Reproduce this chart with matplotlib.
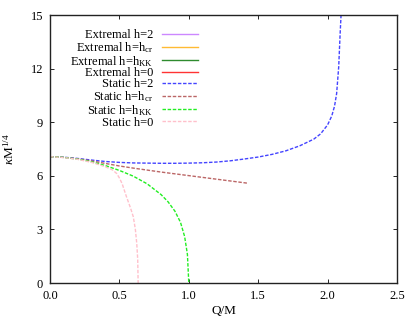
import numpy as np
import matplotlib.pyplot as plt

plt.rcParams['font.family'] = ['Liberation Serif', 'DejaVu Serif']
plt.rcParams['mathtext.fontset'] = 'custom'
plt.rcParams['mathtext.rm'] = 'Liberation Serif'
plt.rcParams['mathtext.it'] = 'Liberation Serif:italic'

# static h=2
q_h2 = [0, 0.1, 0.2, 0.3, 0.4, 0.5, 0.6, 0.7, 0.8, 0.9, 1.0, 1.1, 1.2, 1.3, 1.4,
        1.5, 1.6, 1.7, 1.8, 1.9, 1.95, 2.0, 2.03, 2.05, 2.065, 2.08, 2.09, 2.1]
k_h2 = [7.07, 7.04, 6.97, 6.88, 6.80, 6.75, 6.72, 6.71, 6.70, 6.70, 6.71, 6.73, 6.77,
        6.84, 6.94, 7.05, 7.20, 7.40, 7.68, 8.05, 8.35, 8.85, 9.35, 9.9, 10.6, 12.1, 13.9, 15.5]

# static h=h_cr
q_hcr = [0, 0.1, 0.2, 0.3, 0.4, 0.5, 0.6, 0.7, 0.8, 0.9, 1.0, 1.1, 1.2, 1.3, 1.42]
k_hcr = [7.07, 7.03, 6.95, 6.83, 6.69, 6.55, 6.43, 6.32, 6.21, 6.11, 6.01, 5.91, 5.81, 5.71, 5.59]

# static h=h_KK
q_hkk = [0, 0.1, 0.2, 0.3, 0.4, 0.5, 0.6, 0.7, 0.8, 0.85, 0.9, 0.94, 0.97, 0.99, 1.0]
k_hkk = [7.07, 7.03, 6.93, 6.78, 6.57, 6.30, 5.98, 5.55, 4.95, 4.55, 4.02, 3.4, 2.6, 1.6, 0]

# static h=0
q_h0 = [0, 0.1, 0.2, 0.3, 0.35, 0.4, 0.45, 0.48, 0.5, 0.52, 0.55, 0.58, 0.6,
        0.615, 0.625, 0.632, 0.635]
k_h0 = [7.07, 7.02, 6.92, 6.75, 6.63, 6.5, 6.33, 6.13, 5.88, 5.55, 4.85, 4.2, 3.71,
        3.0, 2.22, 1.3, 0]

labels = ['Extremal h=2', 'Extremal h=h$_{\\rm cr}$', 'Extremal h=h$_{\\rm KK}$', 'Extremal h=0',
          'Static h=2', 'Static h=h$_{\\rm cr}$', 'Static h=h$_{\\rm KK}$', 'Static h=0']
colors = ['#cc88ff', '#ffbb33', '#2e8b2e', '#ff3333',
          '#4444ff', '#bb6666', '#22ee22', '#ffc0cb']

fig = plt.figure(figsize=(4.18, 3.22), dpi=100)
ax = fig.add_axes([50 / 418, 1 - 283 / 322, 347 / 418, 268 / 322])

# extremal curves lie outside the visible range; only in legend
handles = []
for i in range(4):
    h, = ax.plot([], [], color=colors[i], lw=1.0, label=labels[i])
    handles.append(h)

dash = (0, (2.5, 1.2))
for q, k, i in [(q_h2, k_h2, 4), (q_hcr, k_hcr, 5), (q_hkk, k_hkk, 6), (q_h0, k_h0, 7)]:
    h, = ax.plot(q, k, color=colors[i], lw=1.0, linestyle=dash, label=labels[i])
    handles.append(h)

ax.set_xlim(0, 2.5)
ax.set_ylim(0, 15)
ax.set_xticks([0, 0.5, 1.0, 1.5, 2.0, 2.5])
ax.set_xticklabels(['0.0', '0.5', '1.0', '1.5', '2.0', '2.5'])
ax.set_yticks([0, 3, 6, 9, 12, 15])
ax.tick_params(direction='in', top=True, right=True, labelsize=9, length=3, width=0.6, pad=5)
for s in ax.spines.values():
    s.set_linewidth(1.0)
    s.set_color('#222222')

ax.set_xlabel('Q/M', fontsize=9.5, labelpad=2)
ax.set_ylabel('$\\kappa$M$^{1/4}$', fontsize=9.5, labelpad=10)

leg = ax.legend(handles=handles, loc='upper left', bbox_to_anchor=(0.036, 0.975),
                frameon=False, markerfirst=False, fontsize=9, handlelength=2.9,
                handletextpad=0.7, labelspacing=-0.09, borderaxespad=0.2)
for t in leg.get_texts():
    t.set_ha('right')

fig.savefig('out.png', dpi=100)
